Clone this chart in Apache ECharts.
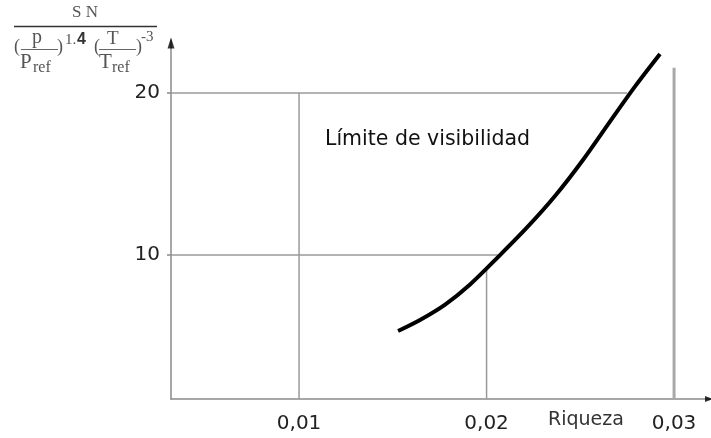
<!DOCTYPE html>
<html>
<head>
<meta charset="utf-8">
<script src="https://cdn.jsdelivr.net/npm/echarts@6/dist/echarts.min.js"></script>
<style>
html,body{margin:0;padding:0;background:#fff;}
#chart{width:711px;height:438px;}
</style>
</head>
<body>
<div id="chart"></div>
<script>
// ---- data ----
const riqueza = [0.01528, 0.01645, 0.01779, 0.01912, 0.02061, 0.02216, 0.02365, 0.02515, 0.02659, 0.02792, 0.02925];
const limite  = [5.31, 5.99, 6.94, 8.18, 9.87, 11.70, 13.64, 15.88, 18.25, 20.41, 22.41];
const xTicks = [0.01, 0.02, 0.03];
const yTicks = [10, 20];
const xRange = [0.00317, 0.03197];
const yRange = [1.11, 23.27];
// reference lines: horizontal at y up to the curve, vertical at x up to the curve
const hGuideY   = [20, 10];
const hGuideEnd = [0.0275, 0.0207];
const vGuideX   = [0.01, 0.02, 0.03];
const vGuideEnd = [20, 9.21, 21.55];
const xTitle = 'Riqueza';
const curveLabel = 'Límite de visibilidad';

const chart = echarts.init(document.getElementById('chart'), null, {renderer: 'canvas'});
const series = [];
hGuideY.forEach((y, i) => {
  series.push({type: 'line', data: [[xRange[0], y], [hGuideEnd[i], y]], symbol: 'none', silent: true,
    lineStyle: {color: '#9a9a9a', width: 1.5}, z: 1});
});
vGuideX.forEach((x, i) => {
  series.push({type: 'line', data: [[x, yRange[0]], [x, vGuideEnd[i]]], symbol: 'none', silent: true,
    lineStyle: {color: i === 2 ? '#a8a8a8' : '#9a9a9a', width: i === 2 ? 3 : 1.5}, z: 1});
});
series.push({type: 'line', data: riqueza.map((x, i) => [x, limite[i]]), symbol: 'none', smooth: 0.3,
  lineStyle: {color: '#000', width: 4}, z: 5});
// axis arrow heads
series.push({type: 'scatter', data: [[xRange[0], yRange[1]]], symbol: 'triangle', symbolSize: [7, 11],
  symbolOffset: [0, 3], itemStyle: {color: '#000'}, clip: false, silent: true, z: 6});
series.push({type: 'scatter', data: [[xRange[1], yRange[0]]], symbol: 'triangle', symbolSize: [6, 8],
  symbolRotate: -90, symbolOffset: [-2, 0], itemStyle: {color: '#000'}, clip: false, silent: true, z: 6});

const serif = '"Liberation Serif", "DejaVu Serif", serif';
const sans = '"DejaVu Sans", "Liberation Sans", sans-serif';
const txt = (x, y, s, size, extra) => Object.assign({type: 'text', left: x, top: y,
  style: {text: s, font: size + 'px ' + serif, fill: '#555'}}, extra || {});
const ln = (x1, y1, x2, y2, w, c) => ({type: 'line', shape: {x1, y1, x2, y2}, style: {stroke: c || '#555', lineWidth: w || 1}});

chart.setOption({
  animation: false,
  grid: {left: 171, right: 0, top: 40, bottom: 39, containLabel: false},
  xAxis: {
    type: 'value', min: xRange[0], max: xRange[1],
    axisLine: {show: true, lineStyle: {color: '#8a8a8a', width: 1.5}},
    axisTick: {show: false},
    splitLine: {show: false},
    axisLabel: {customValues: xTicks, margin: 15, color: '#222', fontSize: 20, fontFamily: sans,
      formatter: v => v.toFixed(2).replace('.', ',')}
  },
  yAxis: {
    type: 'value', min: yRange[0], max: yRange[1],
    axisLine: {show: true, lineStyle: {color: '#8a8a8a', width: 1.5}},
    axisTick: {show: true, customValues: yTicks, length: 4, lineStyle: {color: '#8a8a8a', width: 1.5}},
    splitLine: {show: false},
    axisLabel: {customValues: yTicks, margin: 11, color: '#222', fontSize: 20, fontFamily: sans}
  },
  series: series,
  graphic: [
    {type: 'text', left: 548, top: 411, style: {text: xTitle, font: '19px ' + sans, fill: '#333'}},
    {type: 'text', left: 325, top: 129, style: {text: curveLabel, font: '20.5px ' + sans, fill: '#111'}},
    txt(72, 4, 'S N', 17),
    ln(14, 26.5, 157, 26.5, 1.5, '#333'),
    txt(14, 38, '(', 18),
    txt(32, 28, 'p', 20),
    ln(21, 49.5, 58, 49.5, 1, '#666'),
    txt(20, 52, 'P', 21),
    txt(33, 60, 'ref', 16),
    txt(57, 38, ')', 18),
    txt(65, 33, '1.', 15),
    {type: 'text', left: 77, top: 32, style: {text: '4', font: 'bold 16px "Liberation Sans", sans-serif', fill: '#333'}},
    txt(94, 38, '(', 18),
    txt(107, 30, 'T', 19),
    ln(99, 49.5, 136, 49.5, 1, '#666'),
    txt(99, 52, 'T', 21),
    txt(112, 60, 'ref', 16),
    txt(136, 38, ')', 18),
    txt(141, 30, '-3', 15)
  ]
});
</script>
</body>
</html>
